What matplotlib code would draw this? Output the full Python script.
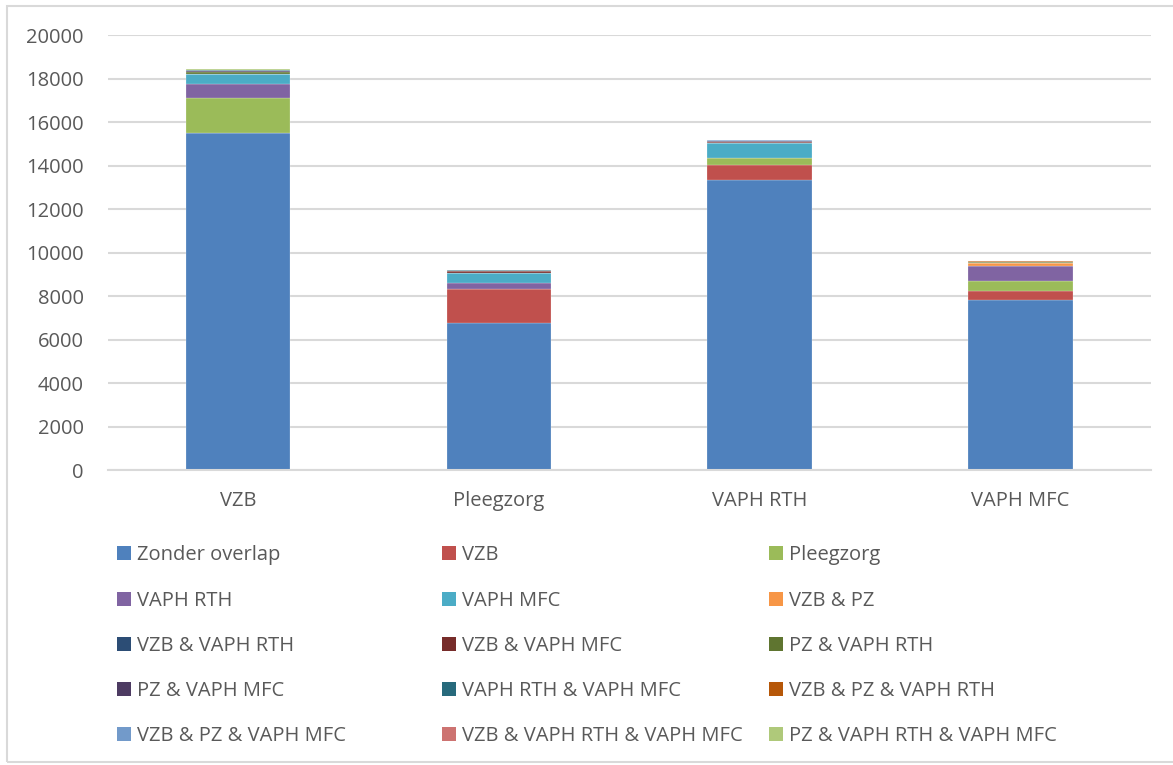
import matplotlib.pyplot as plt
import numpy as np
from matplotlib.patches import Patch, Rectangle

plt.rcParams['font.family'] = ['Open Sans', 'DejaVu Sans']

# categories (bars) and the stacked series
categories = ['VZB', 'Pleegzorg', 'VAPH RTH', 'VAPH MFC']
series_names = ['Zonder overlap', 'VZB', 'Pleegzorg', 'VAPH RTH', 'VAPH MFC',
                'VZB & PZ', 'VZB & VAPH RTH', 'VZB & VAPH MFC', 'PZ & VAPH RTH',
                'PZ & VAPH MFC', 'VAPH RTH & VAPH MFC', 'VZB & PZ & VAPH RTH',
                'VZB & PZ & VAPH MFC', 'VZB & VAPH RTH & VAPH MFC',
                'PZ & VAPH RTH & VAPH MFC']

zonder_overlap = [15500, 6750, 13350, 7800]
vzb = [0, 1570, 680, 450]
pleegzorg = [1600, 0, 300, 460]
vaph_rth = [660, 260, 0, 690]
vaph_mfc = [460, 460, 690, 0]
vzb_pz = [0, 0, 30, 100]
vzb_rth = [0, 30, 0, 40]
vzb_mfc = [0, 80, 50, 0]
pz_rth = [60, 0, 0, 30]
pz_mfc = [60, 0, 40, 0]
rth_mfc = [60, 30, 0, 0]
vzb_pz_rth = [0, 0, 0, 40]
vzb_pz_mfc = [0, 0, 30, 0]
vzb_rth_mfc = [0, 20, 0, 0]
pz_rth_mfc = [40, 0, 0, 0]

series_values = [zonder_overlap, vzb, pleegzorg, vaph_rth, vaph_mfc, vzb_pz,
                 vzb_rth, vzb_mfc, pz_rth, pz_mfc, rth_mfc, vzb_pz_rth,
                 vzb_pz_mfc, vzb_rth_mfc, pz_rth_mfc]

colors = ['#4F81BD', '#C0504D', '#9BBB59', '#8064A2', '#4BACC6', '#F79646',
          '#2C4D75', '#772C2A', '#5F7530', '#4D3B62', '#276A7C', '#B65708',
          '#729ACA', '#CD7371', '#AFC97A']

txt = '#595959'

fig = plt.figure(figsize=(11.73, 7.65), dpi=100)
ax = fig.add_axes([0.0917, 0.3856, 0.8894, 0.5686])

x = np.arange(len(categories))
bottom = np.zeros(len(categories))
for name, vals, c in zip(series_names, series_values, colors):
    ax.bar(x, vals, width=0.4, bottom=bottom, color=c, label=name,
           edgecolor='white', linewidth=0.15)
    bottom += np.array(vals)

ax.set_xlim(-0.5, len(categories) - 0.5)
ax.set_ylim(0, 20000)
ax.set_yticks(np.arange(0, 20001, 2000))
ax.set_xticks(x)
ax.set_xticklabels(categories)
ax.yaxis.grid(True, color='#D9D9D9', linewidth=1.5)
ax.set_axisbelow(True)
for s in ['top', 'right', 'left']:
    ax.spines[s].set_visible(False)
ax.spines['bottom'].set_color('#D9D9D9')
ax.spines['bottom'].set_linewidth(1.5)
ax.tick_params(axis='both', length=0, labelsize=14.5, colors=txt)
ax.tick_params(axis='x', pad=15)
ax.tick_params(axis='y', pad=17)

# legend: three columns, row-wise order
handles = [Patch(facecolor=c, edgecolor='none') for c in colors]
col_x = [0.100, 0.3765, 0.6555]
for ci in range(3):
    idx = list(range(ci, len(series_names), 3))
    leg = fig.legend([handles[i] for i in idx], [series_names[i] for i in idx],
                     loc='upper left', bbox_to_anchor=(col_x[ci], 0.287),
                     frameon=False, fontsize=14.5, handlelength=0.7,
                     handleheight=0.7, handletextpad=0.3, labelspacing=1.25,
                     borderaxespad=0, borderpad=0)
    for t in leg.get_texts():
        t.set_color(txt)

# outer chart border
fig.add_artist(Rectangle((0.006, 0.004), 1.2, 0.988, transform=fig.transFigure,
                         fill=False, edgecolor='#D9D9D9', linewidth=1.5))

fig.savefig('out.png', dpi=100)
